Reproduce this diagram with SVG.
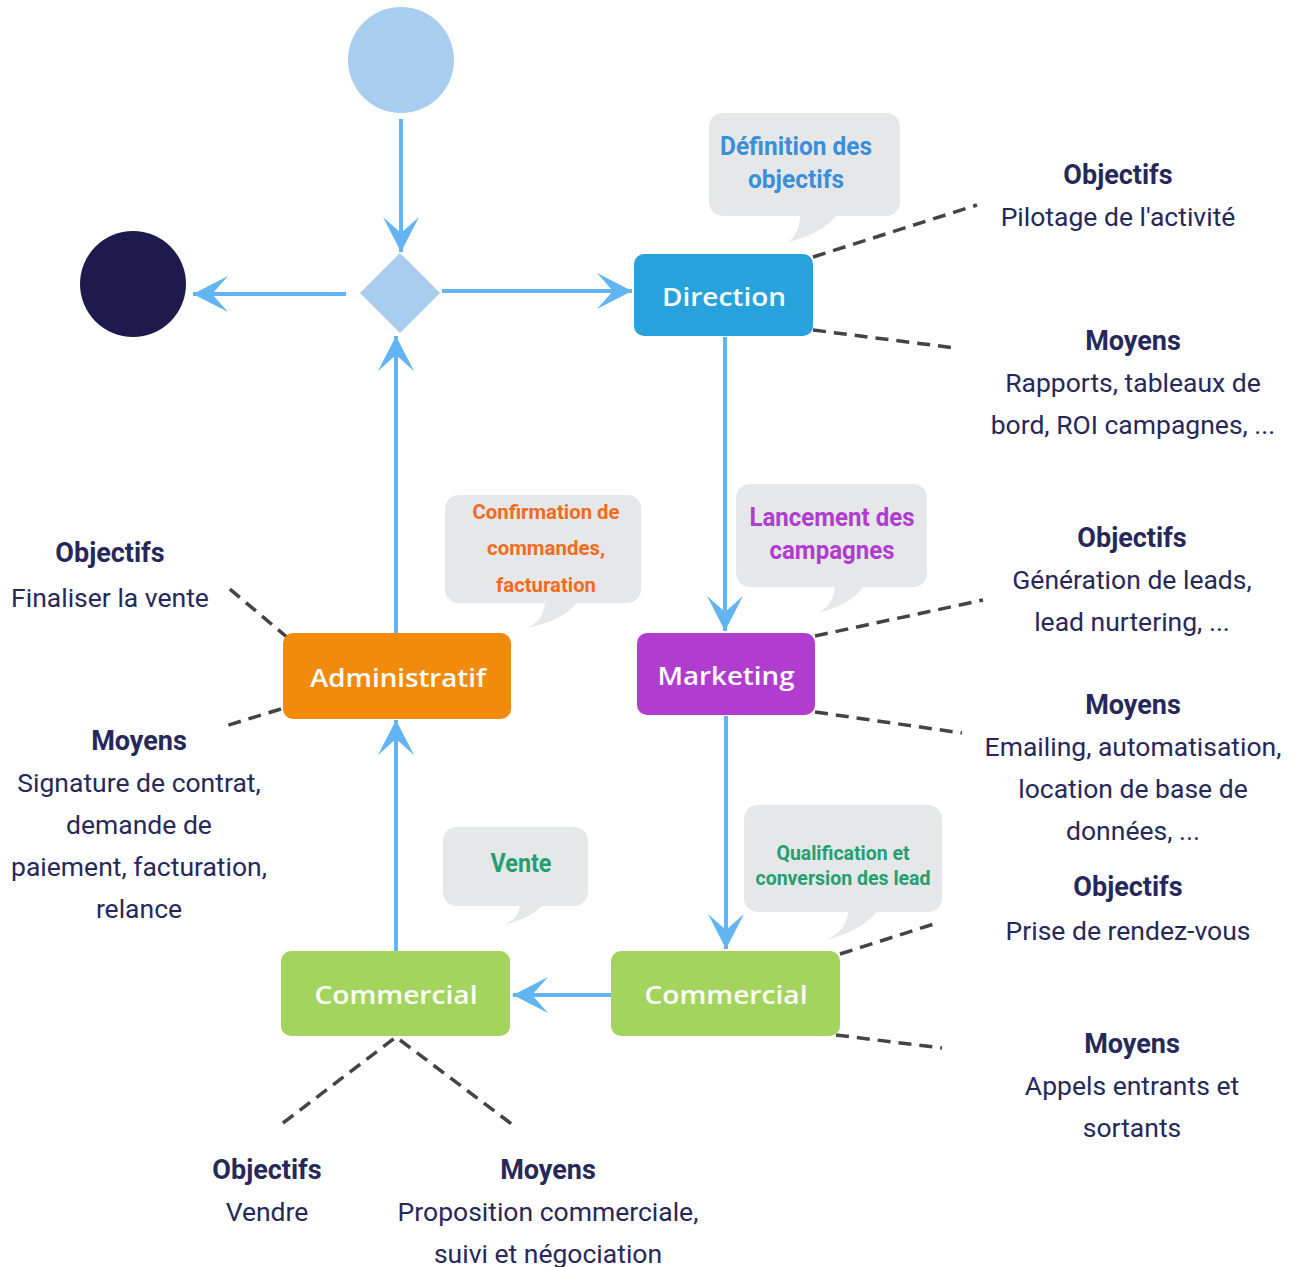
<svg xmlns="http://www.w3.org/2000/svg" width="1300" height="1267" viewBox="0 0 1300 1267">
<defs>
<style>
.flow{stroke:#62b4f3;stroke-width:4;fill:none;marker-end:url(#ah)}
.dash{stroke:#444;stroke-width:3.5;fill:none;stroke-dasharray:13 8}
.box{font-family:"Open Sans","Liberation Sans",sans-serif;font-size:25px;fill:#fff;text-anchor:middle;font-weight:600}
.call{font-family:Roboto,"Liberation Sans",sans-serif;font-weight:700;text-anchor:middle}
.bub{fill:#e6e7e8}
.h{font-family:Roboto,"Liberation Sans",sans-serif;font-weight:700;font-size:27px;fill:#27285a;text-anchor:middle}
.t{font-family:Roboto,"Liberation Sans",sans-serif;font-size:26.5px;fill:#27285a;text-anchor:middle}
</style>
<marker id="ah" markerUnits="userSpaceOnUse" viewBox="-36 -19 38 38" markerWidth="38" markerHeight="38" refX="0" refY="0" orient="auto">
<path d="M0,0 L-35,-18 L-19,0 L-35,18 Z" fill="#62b4f3"/>
</marker>
</defs>
<rect width="1300" height="1267" fill="#fff"/>

<g id="connectors">
<line class="flow" x1="401" y1="119" x2="401" y2="252"/>
<line class="flow" x1="442" y1="291" x2="632" y2="291"/>
<line class="flow" x1="346" y1="294" x2="193" y2="294"/>
<line class="flow" x1="396" y1="633" x2="396" y2="336"/>
<line class="flow" x1="725" y1="337" x2="725" y2="631"/>
<line class="flow" x1="726" y1="716" x2="726" y2="949"/>
<line class="flow" x1="611" y1="995" x2="513" y2="995"/>
<line class="flow" x1="396" y1="951" x2="396" y2="720"/>
<line class="dash" x1="813" y1="257" x2="977" y2="205"/>
<line class="dash" x1="813" y1="330" x2="955" y2="348"/>
<line class="dash" x1="815" y1="636" x2="983" y2="600"/>
<line class="dash" x1="815" y1="712" x2="962" y2="733"/>
<line class="dash" x1="840" y1="954" x2="937" y2="923"/>
<line class="dash" x1="836" y1="1035" x2="942" y2="1048"/>
<line class="dash" x1="288" y1="638" x2="225" y2="585"/>
<line class="dash" x1="281" y1="709" x2="222" y2="727"/>
<polyline class="dash" points="283,1123 396,1037 513,1125"/>
</g>

<g id="start"><circle cx="401" cy="60" r="53" fill="#a9cdee"/></g>
<g id="end"><circle cx="133" cy="284" r="53" fill="#1f1a4d"/></g>
<g id="decision"><polygon points="400,253 440,293 400,333 360,293" fill="#a9cdee"/></g>

<g id="direction">
<rect x="634" y="254" width="179" height="82" rx="10" fill="#27a2dc"/>
<text class="box" x="724" y="306" textLength="124" lengthAdjust="spacingAndGlyphs">Direction</text>
</g>
<g id="marketing">
<rect x="637" y="633" width="178" height="82" rx="10" fill="#b13cd0"/>
<text class="box" x="726" y="685" textLength="137" lengthAdjust="spacingAndGlyphs">Marketing</text>
</g>
<g id="administratif">
<rect x="283" y="633" width="228" height="86" rx="10" fill="#f28b0c"/>
<text class="box" x="398" y="687" textLength="176" lengthAdjust="spacingAndGlyphs">Administratif</text>
</g>
<g id="commercial-right">
<rect x="611" y="951" width="229" height="85" rx="10" fill="#a3d55e"/>
<text class="box" x="726" y="1004" textLength="163" lengthAdjust="spacingAndGlyphs">Commercial</text>
</g>
<g id="commercial-left">
<rect x="281" y="951" width="229" height="85" rx="10" fill="#a3d55e"/>
<text class="box" x="396" y="1004" textLength="163" lengthAdjust="spacingAndGlyphs">Commercial</text>
</g>

<g id="callout-definition">
<rect class="bub" x="709" y="113" width="191" height="103" rx="14"/>
<path class="bub" d="M800,214 Q800,234 788,242 Q822,234 838,214 Z"/>
<text class="call" fill="#3a8fd8" font-size="25" x="796" y="155" textLength="152" lengthAdjust="spacingAndGlyphs">Définition des</text>
<text class="call" fill="#3a8fd8" font-size="25" x="796" y="188" textLength="96" lengthAdjust="spacingAndGlyphs">objectifs</text>
</g>
<g id="callout-confirmation">
<rect class="bub" x="445" y="495" width="196" height="108" rx="14"/>
<path class="bub" d="M545,601 Q545,620 527,628 Q565,620 578,601 Z"/>
<text class="call" fill="#f26b1d" font-size="21" x="546" y="519" textLength="147" lengthAdjust="spacingAndGlyphs">Confirmation de</text>
<text class="call" fill="#f26b1d" font-size="21" x="546" y="555" textLength="118" lengthAdjust="spacingAndGlyphs">commandes,</text>
<text class="call" fill="#f26b1d" font-size="21" x="546" y="592" textLength="100" lengthAdjust="spacingAndGlyphs">facturation</text>
</g>
<g id="callout-lancement">
<rect class="bub" x="736" y="484" width="191" height="103" rx="14"/>
<path class="bub" d="M835,585 Q835,605 817,613 Q852,605 864,585 Z"/>
<text class="call" fill="#b13cd0" font-size="25" x="832" y="526" textLength="165" lengthAdjust="spacingAndGlyphs">Lancement des</text>
<text class="call" fill="#b13cd0" font-size="25" x="832" y="559" textLength="125" lengthAdjust="spacingAndGlyphs">campagnes</text>
</g>
<g id="callout-vente">
<rect class="bub" x="443" y="827" width="145" height="79" rx="14"/>
<path class="bub" d="M520,904 Q520,918 504,925 Q532,918 543,904 Z"/>
<text class="call" fill="#24a070" font-size="25" x="521" y="872" textLength="61" lengthAdjust="spacingAndGlyphs">Vente</text>
</g>
<g id="callout-qualification">
<rect class="bub" x="744" y="805" width="198" height="107" rx="14"/>
<path class="bub" d="M848,910 Q848,930 826,940 Q864,930 878,910 Z"/>
<text class="call" fill="#24a070" font-size="21" x="843" y="860" textLength="133" lengthAdjust="spacingAndGlyphs">Qualification et</text>
<text class="call" fill="#24a070" font-size="21" x="843" y="885" textLength="175" lengthAdjust="spacingAndGlyphs">conversion des lead</text>
</g>

<g id="labels-direction">
<text class="h" x="1118" y="184">Objectifs</text>
<text class="t" x="1118" y="226">Pilotage de l'activité</text>
<text class="h" x="1133" y="350">Moyens</text>
<text class="t" x="1133" y="392">Rapports, tableaux de</text>
<text class="t" x="1133" y="434">bord, ROI campagnes, ...</text>
</g>
<g id="labels-marketing">
<text class="h" x="1132" y="547">Objectifs</text>
<text class="t" x="1132" y="589">Génération de leads,</text>
<text class="t" x="1132" y="631">lead nurtering, ...</text>
<text class="h" x="1133" y="714">Moyens</text>
<text class="t" x="1133" y="756">Emailing, automatisation,</text>
<text class="t" x="1133" y="798">location de base de</text>
<text class="t" x="1133" y="840">données, ...</text>
</g>
<g id="labels-commercial-right">
<text class="h" x="1128" y="896">Objectifs</text>
<text class="t" x="1128" y="940">Prise de rendez-vous</text>
<text class="h" x="1132" y="1053">Moyens</text>
<text class="t" x="1132" y="1095">Appels entrants et</text>
<text class="t" x="1132" y="1137">sortants</text>
</g>
<g id="labels-administratif">
<text class="h" x="110" y="562">Objectifs</text>
<text class="t" x="110" y="607">Finaliser la vente</text>
<text class="h" x="139" y="750">Moyens</text>
<text class="t" x="139" y="792">Signature de contrat,</text>
<text class="t" x="139" y="834">demande de</text>
<text class="t" x="139" y="876">paiement, facturation,</text>
<text class="t" x="139" y="918">relance</text>
</g>
<g id="labels-commercial-left">
<text class="h" x="267" y="1179">Objectifs</text>
<text class="t" x="267" y="1221">Vendre</text>
<text class="h" x="548" y="1179">Moyens</text>
<text class="t" x="548" y="1221">Proposition commerciale,</text>
<text class="t" x="548" y="1263">suivi et négociation</text>
</g>
</svg>
